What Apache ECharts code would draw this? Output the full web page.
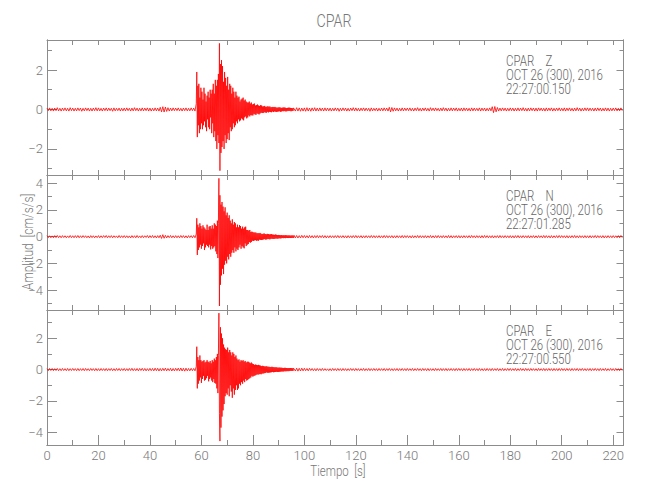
<!DOCTYPE html>
<html><head><meta charset="utf-8">
<script src="https://cdn.jsdelivr.net/npm/echarts@6/dist/echarts.min.js"></script>
<style>html,body{margin:0;padding:0;background:#fff}#c{width:650px;height:500px}</style>
</head><body><div id="c"></div>
<script>
// ---- data ----
// pre-event samples: t = 0 .. 57.5 s every 0.5 s
// event samples:     t = 58 .. 95.8 s every 0.2 s
// post-event samples: t = 96 .. 223.5 s every 0.5 s
const preStep = 0.5, eventStart = 58, eventStep = 0.2, postStart = 96, postStep = 0.5;

const zPre = [
0.07,-0.06,0.08,-0.07,0.06,-0.08,0.07,-0.06,0.09,-0.07,0.06,-0.08,0.07,-0.06,0.08,-0.07,0.06,-0.08,0.09,-0.06,
0.07,-0.08,0.06,-0.07,0.08,-0.06,0.07,-0.09,0.06,-0.07,0.08,-0.06,0.07,-0.08,0.06,-0.08,0.07,-0.06,0.09,-0.07,
0.08,-0.07,0.06,-0.08,0.07,-0.06,0.08,-0.07,0.07,-0.06,0.06,-0.09,0.08,-0.07,0.06,-0.06,0.07,-0.08,0.06,-0.07,
0.07,-0.07,0.08,-0.06,0.06,-0.08,0.07,-0.07,0.09,-0.06,0.07,-0.08,0.06,-0.07,0.08,-0.07,0.07,-0.06,0.08,-0.08,
0.07,-0.08,0.06,-0.07,0.08,-0.07,0.07,-0.08,0.11,-0.12,0.14,-0.13,0.12,-0.10,0.09,-0.08,0.07,-0.07,0.08,-0.06,
0.07,-0.06,0.08,-0.07,0.06,-0.08,0.07,-0.06,0.08,-0.07,0.06,-0.07,0.08,-0.06,0.07,-0.08
];
const zEvent = [
0.3,1.9,-1.4,1.2,-0.8,1.3,-1.2,0.6,-1.0,1.1,
-0.7,0.9,-1.0,0.5,-0.8,1.1,-0.6,0.8,-0.9,0.4,
-1.1,0.7,-0.5,0.9,-0.9,0.6,-1.0,1.0,-0.4,0.8,
-1.2,1.0,-0.7,1.3,-1.4,0.8,-1.1,1.5,-1.6,1.2,
-2.0,1.5,-1.3,1.8,-1.7,3.35,-3.1,2.3,-2.2,2.5,
-1.9,2.2,-1.6,1.4,-2.0,1.9,-1.3,1.6,-1.7,1.2,
-1.5,1.65,-1.2,1.0,-1.55,1.3,-0.9,1.2,-1.1,0.8,
-1.0,1.1,-0.7,0.9,-0.9,0.6,-0.8,0.9,-0.6,0.7,
-0.7,0.6,-0.5,0.65,-0.6,0.4,-0.55,0.5,-0.45,0.55,
-0.5,0.6,-0.55,0.45,-0.4,0.5,-0.35,0.4,-0.45,0.35,
-0.4,0.35,-0.3,0.4,-0.35,0.3,-0.28,0.35,-0.3,0.25,
-0.3,0.28,-0.22,0.3,-0.25,0.2,-0.27,0.22,-0.2,0.25,
-0.22,0.2,-0.25,0.18,-0.2,0.22,-0.16,0.2,-0.18,0.15,
-0.18,0.16,-0.14,0.18,-0.15,0.13,-0.17,0.14,-0.12,0.16,
-0.15,0.14,-0.12,0.15,-0.13,0.11,-0.14,0.12,-0.1,0.13,
-0.13,0.12,-0.1,0.13,-0.11,0.1,-0.12,0.09,-0.11,0.1,
-0.1,0.11,-0.09,0.1,-0.12,0.08,-0.1,0.09,-0.08,0.1,
-0.09,0.1,-0.08,0.09,-0.1,0.07,-0.09,0.08,-0.07,0.09,
-0.08,0.09,-0.07,0.08,-0.09,0.07,-0.08,0.06,-0.07,0.08
];
const zPost = [
0.1,-0.08,0.09,-0.08,0.08,-0.09,0.07,-0.08,
0.08,-0.09,0.09,-0.08,0.07,-0.09,0.08,-0.07,0.09,-0.08,0.07,-0.08,0.08,-0.07,0.07,-0.08,0.08,-0.07,0.07,-0.07,
0.07,-0.08,0.06,-0.07,0.08,-0.06,0.07,-0.09,0.06,-0.07,0.08,-0.06,0.07,-0.08,0.06,-0.08,0.07,-0.06,0.09,-0.07,
0.08,-0.07,0.06,-0.08,0.07,-0.06,0.08,-0.07,0.07,-0.06,0.06,-0.09,0.08,-0.07,0.06,-0.06,0.07,-0.08,0.06,-0.07,
0.07,-0.07,0.08,-0.06,0.07,-0.08,0.11,-0.12,0.10,-0.09,0.08,-0.07,0.07,-0.08,0.06,-0.07,0.08,-0.07,0.07,-0.06,
0.07,-0.06,0.08,-0.07,0.06,-0.08,0.07,-0.06,0.09,-0.07,0.06,-0.08,0.07,-0.06,0.08,-0.07,0.06,-0.08,0.09,-0.06,
0.07,-0.07,0.08,-0.06,0.06,-0.08,0.07,-0.07,0.09,-0.06,0.07,-0.08,0.06,-0.07,0.08,-0.07,0.07,-0.06,0.08,-0.08,
0.06,-0.07,0.07,-0.08,0.08,-0.06,0.07,-0.07,0.06,-0.08,0.08,-0.07,0.07,-0.06,0.06,-0.07,0.08,-0.08,0.07,-0.06,
0.07,-0.08,0.06,-0.07,0.08,-0.07,0.14,-0.16,0.15,-0.12,0.10,-0.08,0.07,-0.07,0.08,-0.06,0.07,-0.08,0.06,-0.07,
0.08,-0.06,0.07,-0.08,0.06,-0.07,0.08,-0.07,0.07,-0.06,0.09,-0.07,0.06,-0.08,0.07,-0.07,0.08,-0.06,0.07,-0.08,
0.07,-0.08,0.08,-0.06,0.07,-0.07,0.06,-0.08,0.08,-0.07,0.07,-0.06,0.08,-0.08,0.06,-0.07,0.07,-0.06,0.08,-0.07,
0.06,-0.07,0.08,-0.08,0.07,-0.06,0.08,-0.07,0.06,-0.08,0.07,-0.07,0.09,-0.06,0.07,-0.08,0.06,-0.07,0.08,-0.06,
0.08,-0.07,0.07,-0.06,0.06,-0.08,0.07,-0.07,0.08,-0.06,0.07,-0.08,0.06,-0.07,0.08,-0.07,0.07,-0.08,0.06,-0.07,
0.07,-0.06,0.08,-0.07,0.06,-0.07,0.08,-0.06
];

const nPre = [
0.08,-0.07,0.07,-0.08,0.06,-0.08,0.08,-0.07,0.09,-0.07,0.07,-0.08,0.08,-0.06,0.07,-0.08,0.06,-0.07,0.09,-0.07,
0.07,-0.08,0.08,-0.07,0.09,-0.08,0.07,-0.07,0.08,-0.06,0.07,-0.08,0.06,-0.09,0.08,-0.07,0.07,-0.08,0.06,-0.07,
0.08,-0.08,0.07,-0.07,0.08,-0.06,0.09,-0.08,0.07,-0.07,0.08,-0.08,0.07,-0.06,0.06,-0.08,0.09,-0.07,0.07,-0.07,
0.08,-0.07,0.07,-0.08,0.06,-0.09,0.08,-0.07,0.07,-0.08,0.09,-0.07,0.06,-0.08,0.08,-0.07,0.07,-0.06,0.09,-0.08,
0.08,-0.07,0.09,-0.08,0.07,-0.09,0.08,-0.08,0.11,-0.13,0.15,-0.12,0.10,-0.09,0.08,-0.07,0.09,-0.08,0.07,-0.08,
0.08,-0.08,0.07,-0.08,0.09,-0.07,0.08,-0.08,0.07,-0.09,0.08,-0.07,0.08,-0.08,0.09,-0.08
];
const nEvent = [
0.2,1.38,-1.37,0.9,-1.0,0.7,-0.8,1.0,-0.6,0.8,
-0.9,0.6,-0.7,0.85,-0.5,0.7,-1.0,0.6,-0.8,0.5,
-0.6,0.9,-0.7,0.5,-0.8,0.75,-0.6,0.8,-0.95,0.6,
-0.7,0.85,-0.9,0.6,-0.8,1.0,-0.7,0.9,-1.1,0.8,
-1.3,1.2,-1.6,1.0,4.37,-5.19,3.1,-3.6,2.4,-2.9,
2.6,-2.4,2.25,-2.8,1.9,-2.1,2.2,-1.8,1.6,-2.0,
1.8,-1.5,1.4,-1.7,1.6,-1.3,1.2,-1.5,1.0,-1.2,
1.3,-1.0,0.9,-1.2,1.1,-0.8,1.0,-1.1,0.7,-0.9,
0.9,-1.0,0.7,-0.8,0.87,-0.6,0.8,-0.9,0.6,-0.7,
0.75,-0.8,0.6,-0.87,0.7,-0.5,0.75,-0.7,0.5,-0.6,
0.5,-0.55,0.45,-0.4,0.5,-0.45,0.35,-0.4,0.38,-0.3,
0.35,-0.32,0.3,-0.28,0.32,-0.26,0.3,-0.3,0.25,-0.28,
0.27,-0.3,0.25,-0.22,0.28,-0.24,0.22,-0.25,0.2,-0.23,
0.22,-0.2,0.24,-0.18,0.2,-0.22,0.18,-0.2,0.21,-0.17,
0.2,-0.18,0.17,-0.2,0.18,-0.16,0.19,-0.15,0.16,-0.17,
0.15,-0.17,0.14,-0.15,0.16,-0.13,0.14,-0.15,0.12,-0.14,
0.13,-0.12,0.12,-0.13,0.11,-0.12,0.12,-0.1,0.1,-0.11,
0.11,-0.1,0.1,-0.11,0.12,-0.09,0.1,-0.1,0.09,-0.1,
0.1,-0.09,0.09,-0.1,0.08,-0.09,0.1,-0.08,0.08,-0.09
];
const nPost = [
0.1,-0.09,0.09,-0.1,0.08,-0.09,0.1,-0.08,
0.09,-0.08,0.08,-0.09,0.09,-0.08,0.08,-0.09,0.08,-0.08,0.09,-0.08,0.08,-0.07,0.09,-0.08,0.08,-0.09,0.07,-0.08,
0.08,-0.07,0.07,-0.08,0.08,-0.07,0.09,-0.08,0.07,-0.07,0.08,-0.08,0.07,-0.09,0.08,-0.07,0.07,-0.08,0.08,-0.07,
0.09,-0.08,0.07,-0.07,0.08,-0.09,0.07,-0.08,0.08,-0.07,0.07,-0.08,0.09,-0.07,0.08,-0.08,0.07,-0.07,0.08,-0.08,
0.07,-0.08,0.09,-0.07,0.08,-0.08,0.07,-0.07,0.08,-0.09,0.07,-0.08,0.08,-0.07,0.07,-0.08,0.09,-0.08,0.08,-0.07,
0.08,-0.07,0.07,-0.09,0.08,-0.08,0.07,-0.07,0.09,-0.08,0.08,-0.07,0.07,-0.08,0.08,-0.08,0.07,-0.07,0.09,-0.08,
0.07,-0.08,0.08,-0.08,0.09,-0.07,0.07,-0.08,0.08,-0.07,0.07,-0.08,0.09,-0.08,0.08,-0.09,0.07,-0.07,0.08,-0.08,
0.08,-0.09,0.07,-0.08,0.08,-0.07,0.07,-0.08,0.08,-0.08,0.09,-0.07,0.07,-0.08,0.08,-0.07,0.07,-0.09,0.08,-0.08,
0.09,-0.07,0.08,-0.08,0.07,-0.08,0.08,-0.09,0.07,-0.07,0.08,-0.08,0.09,-0.07,0.07,-0.08,0.08,-0.07,0.07,-0.08,
0.08,-0.08,0.07,-0.09,0.08,-0.07,0.09,-0.08,0.07,-0.08,0.08,-0.07,0.07,-0.08,0.08,-0.09,0.07,-0.07,0.08,-0.08,
0.07,-0.08,0.08,-0.07,0.07,-0.08,0.09,-0.08,0.08,-0.07,0.07,-0.09,0.08,-0.08,0.07,-0.07,0.08,-0.08,0.09,-0.07,
0.08,-0.07,0.07,-0.08,0.08,-0.09,0.07,-0.08,0.08,-0.07,0.09,-0.08,0.07,-0.08,0.08,-0.07,0.07,-0.08,0.08,-0.08,
0.07,-0.08,0.08,-0.08,0.07,-0.07,0.09,-0.08,0.08,-0.07,0.07,-0.08,0.08,-0.09,0.07,-0.08,0.08,-0.07,0.07,-0.08,
0.08,-0.07,0.07,-0.08,0.08,-0.08,0.09,-0.07
];

const ePre = [
0.06,-0.07,0.07,-0.06,0.07,-0.07,0.06,-0.06,0.07,-0.07,0.06,-0.07,0.07,-0.06,0.06,-0.07,0.07,-0.07,0.06,-0.06,
0.07,-0.06,0.06,-0.07,0.07,-0.07,0.06,-0.06,0.07,-0.07,0.07,-0.06,0.06,-0.07,0.07,-0.06,0.06,-0.07,0.07,-0.07,
0.06,-0.07,0.07,-0.06,0.06,-0.07,0.07,-0.07,0.06,-0.06,0.07,-0.07,0.06,-0.07,0.07,-0.06,0.07,-0.07,0.06,-0.06,
0.07,-0.07,0.06,-0.07,0.07,-0.06,0.08,-0.07,0.06,-0.07,0.07,-0.08,0.07,-0.06,0.08,-0.07,0.07,-0.08,0.06,-0.07,
0.08,-0.07,0.07,-0.08,0.09,-0.07,0.08,-0.09,0.07,-0.08,0.08,-0.07,0.09,-0.08,0.07,-0.07,0.08,-0.09,0.07,-0.08,
0.08,-0.07,0.09,-0.08,0.10,-0.09,0.08,-0.10,0.09,-0.08,0.07,-0.08,0.08,-0.07,0.07,-0.08
];
const eEvent = [
0.2,1.46,-1.2,0.8,-0.9,0.6,-0.7,0.9,-0.5,0.6,
-0.85,0.5,-0.6,0.55,-0.4,0.6,-0.7,0.45,-0.65,0.5,
-0.55,0.6,-0.4,0.5,-0.75,0.45,-0.6,0.55,-0.5,0.4,
-0.7,0.6,-0.8,0.5,-0.6,0.7,-0.85,0.6,-0.9,0.8,
-1.2,1.0,-1.5,0.9,3.6,-2.8,-4.56,2.7,-3.7,2.3,
-3.0,2.0,-2.6,1.6,-2.2,1.4,-1.7,1.3,-1.5,1.25,
-1.6,1.4,-1.2,1.1,-1.7,1.25,-1.0,1.1,-1.4,0.9,
-1.8,1.1,-1.2,1.0,-1.6,0.8,-1.3,0.9,-1.0,0.7,
-1.3,0.6,-1.2,0.65,-0.9,0.5,-1.0,0.6,-0.8,0.55,
-0.9,0.6,-0.7,0.5,-0.8,0.55,-0.6,0.45,-0.7,0.5,
-0.66,0.5,-0.6,0.45,-0.55,0.4,-0.5,0.45,-0.4,0.38,
-0.45,0.35,-0.4,0.3,-0.38,0.32,-0.35,0.3,-0.3,0.28,
-0.32,0.3,-0.3,0.27,-0.28,0.25,-0.3,0.22,-0.25,0.24,
-0.25,0.22,-0.23,0.2,-0.22,0.2,-0.18,0.21,-0.2,0.18,
-0.2,0.18,-0.19,0.17,-0.18,0.16,-0.17,0.18,-0.15,0.16,
-0.17,0.15,-0.16,0.14,-0.15,0.15,-0.14,0.13,-0.15,0.12,
-0.15,0.13,-0.14,0.12,-0.13,0.12,-0.12,0.11,-0.12,0.1,
-0.12,0.11,-0.1,0.11,-0.11,0.1,-0.1,0.09,-0.1,0.09,
-0.1,0.09,-0.09,0.1,-0.08,0.09,-0.09,0.08,-0.08,0.09
];
const ePost = [
0.1,-0.09,0.09,-0.1,0.08,-0.09,0.09,-0.08,
0.08,-0.07,0.07,-0.08,0.08,-0.06,0.07,-0.07,0.06,-0.08,0.07,-0.06,0.06,-0.07,0.07,-0.06,0.06,-0.06,0.05,-0.07,
0.06,-0.07,0.07,-0.06,0.06,-0.07,0.07,-0.06,0.06,-0.07,0.07,-0.06,0.06,-0.07,0.06,-0.06,0.07,-0.06,0.06,-0.07,
0.07,-0.06,0.06,-0.07,0.06,-0.06,0.07,-0.07,0.06,-0.06,0.07,-0.07,0.06,-0.06,0.07,-0.06,0.06,-0.07,0.07,-0.06,
0.06,-0.06,0.07,-0.07,0.06,-0.06,0.07,-0.06,0.06,-0.07,0.06,-0.06,0.07,-0.07,0.06,-0.06,0.07,-0.06,0.06,-0.07,
0.07,-0.06,0.06,-0.06,0.07,-0.07,0.06,-0.06,0.07,-0.06,0.06,-0.07,0.07,-0.06,0.06,-0.07,0.07,-0.07,0.06,-0.06,
0.06,-0.07,0.07,-0.06,0.06,-0.06,0.07,-0.07,0.06,-0.06,0.07,-0.07,0.06,-0.06,0.07,-0.06,0.06,-0.07,0.07,-0.06,
0.07,-0.06,0.06,-0.07,0.07,-0.06,0.06,-0.06,0.07,-0.07,0.06,-0.06,0.07,-0.06,0.06,-0.07,0.07,-0.06,0.06,-0.07,
0.06,-0.07,0.07,-0.06,0.06,-0.07,0.07,-0.06,0.06,-0.06,0.07,-0.07,0.06,-0.06,0.07,-0.07,0.06,-0.06,0.07,-0.06,
0.07,-0.06,0.06,-0.06,0.07,-0.07,0.06,-0.06,0.07,-0.06,0.06,-0.07,0.07,-0.06,0.06,-0.07,0.07,-0.06,0.06,-0.06,
0.06,-0.07,0.07,-0.06,0.06,-0.06,0.07,-0.07,0.06,-0.06,0.07,-0.06,0.06,-0.07,0.07,-0.06,0.06,-0.07,0.07,-0.06,
0.07,-0.06,0.06,-0.07,0.07,-0.06,0.06,-0.07,0.07,-0.06,0.06,-0.06,0.07,-0.07,0.06,-0.06,0.07,-0.06,0.06,-0.07,
0.06,-0.06,0.07,-0.07,0.06,-0.06,0.07,-0.06,0.06,-0.07,0.07,-0.06,0.06,-0.06,0.07,-0.07,0.06,-0.06,0.07,-0.06,
0.06,-0.07,0.07,-0.06,0.06,-0.07,0.07,-0.06
];

const stationName = 'CPAR';
const channelNames = ['Z', 'N', 'E'];
const startTimes = ['22:27:00.150', '22:27:01.285', '22:27:00.550'];
const dateLabel = 'OCT 26 (300), 2016';
const xAxisTitle = 'Tiempo\u00a0\u00a0[s]';
const yAxisTitle = 'Amplitud\u00a0\u00a0[cm/s/s]';
const yMins = [-3.32, -5.49, -4.81];
const yMaxs = [3.52, 4.62, 3.80];
const yMajorTicks = [[-2, 0, 2], [-4, -2, 0, 2, 4], [-4, -2, 0, 2]];
const yMinorTicks = [[-3, -1, 1, 3], [-5, -3, -1, 1, 3], [-3, -1, 1, 3]];
const xMajorTicks = [0, 20, 40, 60, 80, 100, 120, 140, 160, 180, 200, 220];
const xMinorTicks = [10, 30, 50, 70, 90, 110, 130, 150, 170, 190, 210];
const xAllTicks = [10, 20, 30, 40, 50, 60, 70, 80, 90, 100, 110, 120, 130, 140, 150, 160, 170, 180, 190, 200, 210, 220];
const xMin = 0, xMax = 224;

// ---- layout / style ----
const FONT = "Roboto, 'Liberation Sans', sans-serif";
const axisColor = '#8c8c8c';
const textColor = '#777';
const gridLeft = 47, gridWidth = 576.5, panelTops = [40, 175, 310], panelH = 135;
const traceParts = [[zPre, zEvent, zPost], [nPre, nEvent, nPost], [ePre, eEvent, ePost]];
const fmt = v => (v < 0 ? '\u2212' : '') + Math.abs(v);

function buildTrace(parts) {
  const [pre, ev, post] = parts;
  return pre.map((v, k) => [k * preStep, v])
    .concat(ev.map((v, k) => [eventStart + k * eventStep, v]))
    .concat(post.map((v, k) => [postStart + k * postStep, v]));
}

const grids = [], xAxes = [], yAxes = [], series = [], graphics = [];
for (let i = 0; i < 3; i++) {
  grids.push({left: gridLeft, top: panelTops[i], width: gridWidth, height: panelH, containLabel: false});
  const xa = (pos, ticks, len, labels) => ({
    gridIndex: i, type: 'value', min: xMin, max: xMax, position: pos,
    axisLine: {show: true, onZero: false, lineStyle: {color: axisColor, width: 1}},
    axisTick: {show: true, inside: true, length: len, customValues: ticks, lineStyle: {color: axisColor}},
    axisLabel: labels ? {show: true, customValues: xMajorTicks, margin: 4, color: textColor, fontSize: 13, fontWeight: 300, fontFamily: FONT, formatter: fmt}
                      : {show: false},
    splitLine: {show: false}
  });
  let bottomIdx;
  if (i === 2) {
    bottomIdx = xAxes.length; xAxes.push(xa('bottom', xMajorTicks, 10, true));
    xAxes.push(xa('bottom', xMinorTicks, 5, false));
  } else {
    bottomIdx = xAxes.length; xAxes.push(xa('bottom', xAllTicks, 5, false));
  }
  xAxes.push(xa('top', xAllTicks, 5, false));

  const ya = (pos, ticks, len, labels) => ({
    gridIndex: i, type: 'value', min: yMins[i], max: yMaxs[i], position: pos,
    axisLine: {show: true, onZero: false, lineStyle: {color: axisColor, width: 1}},
    axisTick: {show: true, inside: true, length: len, customValues: ticks, lineStyle: {color: axisColor}},
    axisLabel: labels ? {show: true, customValues: yMajorTicks[i], margin: 4, color: textColor, fontSize: 13, fontWeight: 300, fontFamily: FONT, formatter: fmt}
                      : {show: false},
    splitLine: {show: false}
  });
  const leftIdx = yAxes.length;
  yAxes.push(ya('left', yMajorTicks[i], 10, true));
  yAxes.push(ya('left', yMinorTicks[i], 5, false));
  yAxes.push(ya('right', yMajorTicks[i], 7, false));
  yAxes.push(ya('right', yMinorTicks[i], 4, false));

  series.push({
    type: 'line', xAxisIndex: bottomIdx, yAxisIndex: leftIdx,
    data: buildTrace(traceParts[i]),
    showSymbol: false, symbol: 'none', sampling: false, silent: true, clip: true,
    lineStyle: {color: '#ff0000', width: 0.8}, z: 1
  });

  const lines = [stationName + '\u00a0\u00a0\u00a0\u00a0' + channelNames[i], dateLabel, startTimes[i]];
  lines.forEach((t, j) => graphics.push({
    type: 'text', x: 506, y: panelTops[i] + 21 + j * 14, scaleX: 0.82, silent: true,
    style: {text: t, fill: '#666', font: '300 14px ' + FONT, align: 'left', verticalAlign: 'middle'}
  }));
}
graphics.push({type: 'text', x: 334, y: 20, scaleX: 0.75, silent: true,
  style: {text: stationName, fill: textColor, font: '300 19px ' + FONT, align: 'center', verticalAlign: 'middle'}});
graphics.push({type: 'text', x: 338, y: 471, scaleX: 0.82, silent: true,
  style: {text: xAxisTitle, fill: textColor, font: '300 14px ' + FONT, align: 'center', verticalAlign: 'middle'}});
graphics.push({type: 'text', x: 28, y: 242, rotation: Math.PI / 2, scaleX: 0.85, silent: true,
  style: {text: yAxisTitle, fill: textColor, font: '300 14px ' + FONT, align: 'center', verticalAlign: 'middle'}});

const chart = echarts.init(document.getElementById('c'), null, {renderer: 'svg', width: 650, height: 500});
chart.setOption({
  animation: false,
  backgroundColor: '#fff',
  grid: grids, xAxis: xAxes, yAxis: yAxes, series: series,
  graphic: graphics
});
</script>
</body></html>
